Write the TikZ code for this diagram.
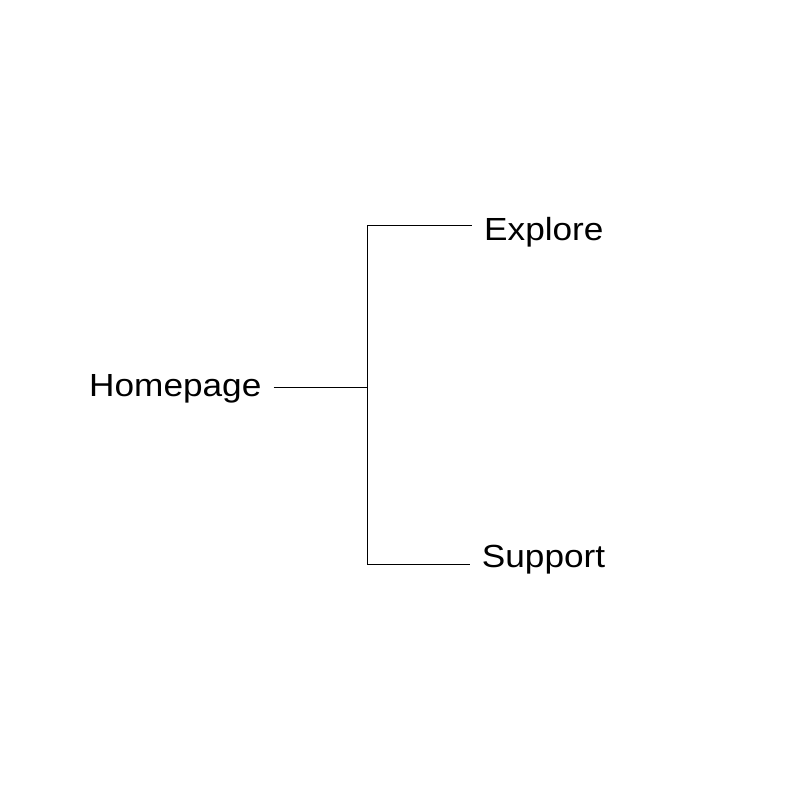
\documentclass[tikz,border=0pt]{standalone}
\usepackage{fontspec}
\newfontfamily\lblfont[FakeStretch=1.1]{Liberation Sans}
\begin{document}
\begin{tikzpicture}[x=1pt,y=-1pt,
  lbl/.style={inner xsep=12pt,inner ysep=0pt,anchor=base west,font=\lblfont\fontsize{32}{38}\selectfont},
  conn/.style={line width=1pt,draw=black}]
\useasboundingbox (0,0) rectangle (800,800);
\node[lbl] (home) at (77,396) {Homepage};
\node[lbl] (explore) at (472,240) {Explore};
\node[lbl] (support) at (469.7,567) {Support};
\coordinate (j) at (367,387);
\coordinate (t) at (367,225.7);
\coordinate (b) at (367,564.3);
\draw[conn] (home.east |- j) -- (j);
\draw[conn] (t) -- (b);
\draw[conn] (t) -- (explore.west |- t);
\draw[conn] (b) -- (support.west |- b);
\end{tikzpicture}
\end{document}
